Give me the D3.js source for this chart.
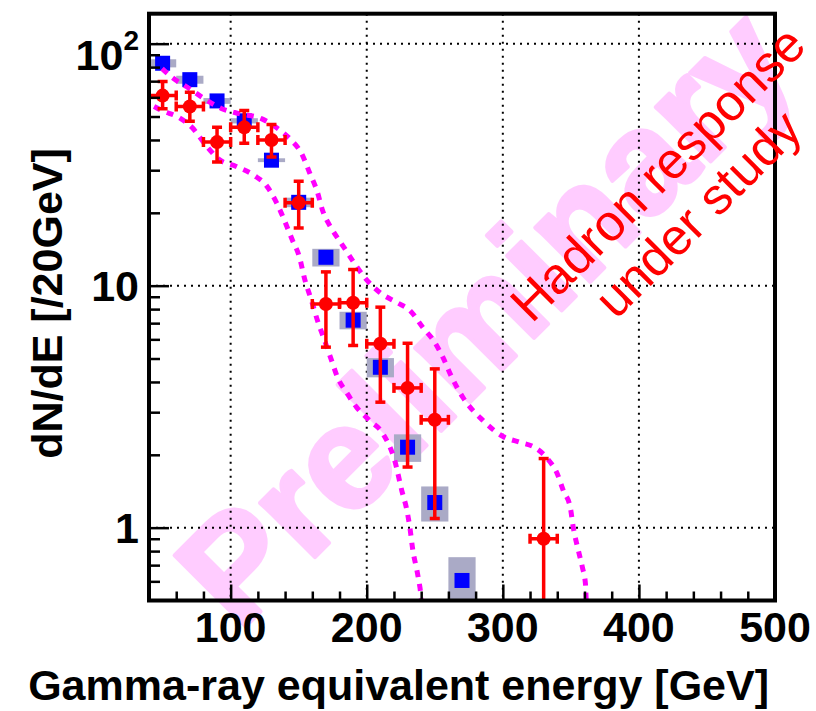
<!DOCTYPE html>
<html>
<head>
<meta charset="utf-8">
<script src="https://cdn.jsdelivr.net/npm/d3@7"></script>
<style>
  body { margin: 0; background: #fff; }
  svg { display: block; }
</style>
</head>
<body>
<svg id="chart" width="816" height="711"></svg>
<script>
// Simulated gamma-ray spectrum (blue squares, grey systematic boxes)
const simEnergy = [50, 70, 90, 110, 130, 150, 170, 190, 210, 230, 250, 270];
const simValue  = [83, 71, 58, 48, 33, 22.1, 13.1, 7.2, 4.6, 2.15, 1.27, 0.605];
const simSys    = [3.2, 2.7, 1.6, 1.2, 0.6, 1.0, 1.1, 0.6, 0.42, 0.28, 0.21, 0.15];

// Observed spectrum (red points with statistical errors)
const obsEnergy = [50, 70, 90, 110, 130, 150, 170, 190, 210, 230, 250, 330];
const obsValue  = [61, 55, 39.2, 45.1, 40, 22, 8.4, 8.5, 5.75, 3.78, 2.79, 0.90];
const obsErrUp  = [8.8, 8, 5.9, 7.8, 6.3, 5.0, 3.0, 3.16, 2.4, 2.0, 1.74, 1.03];
const obsErrLo  = [7.2, 7.2, 6.8, 6.3, 6.0, 4.7, 2.83, 2.84, 2.45, 2.0, 1.7, 0.9];
const binHalfWidth = 10;

// Uncertainty band (magenta dashed envelope)
const upperE = [49.6, 57.0, 69.5, 80.5, 93.1, 106.3, 122.6, 133.6, 144.7, 152.1, 158, 163.8, 167.5, 174.2, 181.5, 189.6, 198.5, 209.6, 222.1, 231.7, 241.3, 250.1, 256, 262.6, 270.7, 285.5, 300.2, 312.8, 323.8, 332.7, 340, 344.5, 349.6, 351.8, 355.5, 358.5, 360.7, 361.4, 362];
const upperV = [78.9, 72.5, 65.3, 59.3, 54.0, 51.4, 49.0, 45.0, 39.8, 35.2, 29.3, 24.3, 20.5, 17.2, 14.9, 12.7, 10.8, 9.37, 8.52, 7.90, 6.71, 5.82, 5.05, 4.17, 3.45, 2.77, 2.38, 2.25, 2.14, 1.93, 1.67, 1.42, 1.21, 1.00, 0.805, 0.684, 0.588, 0.5, 0.45];
const lowerE = [43.7, 49.6, 62.1, 71.7, 82.0, 91.6, 104.1, 117.4, 126.3, 133.6, 139.5, 145.4, 150.6, 154.3, 159.4, 163.8, 169.0, 174.2, 178.6, 185.2, 192.6, 202.2, 211.8, 220.6, 225.8, 229.5, 231.7, 233.9, 236.9, 239.1, 240.5, 241];
const lowerV = [55.0, 52.9, 49.5, 45.0, 37.9, 33.2, 31.1, 28.5, 25.9, 22.1, 18.6, 15.4, 13.1, 10.7, 8.68, 7.18, 5.94, 4.90, 4.17, 3.62, 3.14, 2.77, 2.45, 1.89, 1.42, 1.18, 1.00, 0.805, 0.665, 0.566, 0.5, 0.45];

// Axis ticks and labels
const xMajor = [100, 200, 300, 400, 500];
const xMinor = [60, 80, 120, 140, 160, 180, 220, 240, 260, 280, 320, 340, 360, 380, 420, 440, 460, 480];
const xLabels = ["100", "200", "300", "400", "500"];
const yMajor = [1, 10, 100];
const yMinor = [0.6, 0.7, 0.8, 0.9, 2, 3, 4, 5, 6, 7, 8, 9, 20, 30, 40, 50, 60, 70, 80, 90];
const xGrid = [100, 200, 300, 400];
const yGrid = [1, 10, 100];

const FONT = "'Liberation Sans', Arial, Helvetica, sans-serif";
const W = 816, H = 711;
const plot = { left: 149, right: 775, top: 13.7, bottom: 600.5 };

const x = d3.scaleLinear().domain([40, 500]).range([plot.left, plot.right]);
const y = d3.scaleLog().domain([0.5, 133]).range([plot.bottom, plot.top]).clamp(true);

const svg = d3.select("#chart");
svg.append("rect").attr("width", W).attr("height", H).attr("fill", "#fff");

svg.append("defs").append("clipPath").attr("id", "plotClip")
  .append("rect")
  .attr("x", plot.left).attr("y", plot.top)
  .attr("width", plot.right - plot.left).attr("height", plot.bottom - plot.top);

// Watermark
svg.append("text")
  .attr("transform", "translate(520,352) rotate(-45)")
  .attr("text-anchor", "middle")
  .attr("font-family", FONT).attr("font-weight", "bold")
  .attr("font-size", 146)
  .attr("fill", "#ffccff")
  .attr("stroke", "#ffccff").attr("stroke-width", 4).attr("stroke-linejoin", "round")
  .text("Preliminary");

// Dotted grid
const grid = svg.append("g").attr("stroke", "#000").attr("stroke-width", 2).attr("stroke-dasharray", "2,5");
grid.selectAll("line.gx").data(xGrid).join("line")
  .attr("x1", d => x(d)).attr("x2", d => x(d))
  .attr("y1", plot.top).attr("y2", plot.bottom);
grid.selectAll("line.gy").data(yGrid).join("line")
  .attr("x1", plot.left).attr("x2", plot.right)
  .attr("y1", d => y(d)).attr("y2", d => y(d));

const data = svg.append("g").attr("clip-path", "url(#plotClip)");

// Systematic boxes
const sim = simEnergy.map((e, i) => ({ e, v: simValue[i], s: simSys[i] }));
data.append("g").selectAll("rect").data(sim).join("rect")
  .attr("x", d => x(d.e - binHalfWidth))
  .attr("width", d => x(d.e + binHalfWidth) - x(d.e - binHalfWidth))
  .attr("y", d => y(d.v + d.s))
  .attr("height", d => y(Math.max(d.v - d.s, 0.4)) - y(d.v + d.s))
  .attr("fill", "#aaaac6");

// Simulated points
const sq = 15;
data.append("g").selectAll("rect").data(sim).join("rect")
  .attr("x", d => x(d.e) - sq / 2).attr("y", d => y(d.v) - sq / 2)
  .attr("width", sq).attr("height", sq)
  .attr("fill", "#0000ff");

// Envelope curves
const line = d3.line().x(d => x(d[0])).y(d => y(d[1])).curve(d3.curveMonotoneX);
[[upperE, upperV], [lowerE, lowerV]].forEach(([es, vs]) => {
  data.append("path")
    .attr("d", line(es.map((e, i) => [e, vs[i]])))
    .attr("fill", "none")
    .attr("stroke", "#ff00ff").attr("stroke-width", 5)
    .attr("stroke-dasharray", "7,7");
});

// Observed points with error bars
const obs = obsEnergy.map((e, i) => ({ e, v: obsValue[i], up: obsErrUp[i], lo: obsErrLo[i] }));
const eb = data.append("g").attr("stroke", "#ff0000").attr("stroke-width", 3.5);
const cap = 5;
obs.forEach(d => {
  const cx = x(d.e), cy = y(d.v);
  const yTop = y(d.v + d.up);
  const loVal = d.v - d.lo;
  const yBot = loVal > 0.5 ? y(loVal) : plot.bottom;
  const xl = x(d.e - binHalfWidth), xr = x(d.e + binHalfWidth);
  eb.append("line").attr("x1", cx).attr("x2", cx).attr("y1", yTop).attr("y2", yBot);
  eb.append("line").attr("x1", cx - cap).attr("x2", cx + cap).attr("y1", yTop).attr("y2", yTop);
  if (loVal > 0.5) eb.append("line").attr("x1", cx - cap).attr("x2", cx + cap).attr("y1", yBot).attr("y2", yBot);
  eb.append("line").attr("x1", xl).attr("x2", xr).attr("y1", cy).attr("y2", cy);
  eb.append("line").attr("x1", xl).attr("x2", xl).attr("y1", cy - cap).attr("y2", cy + cap);
  eb.append("line").attr("x1", xr).attr("x2", xr).attr("y1", cy - cap).attr("y2", cy + cap);
});
data.append("g").selectAll("circle").data(obs).join("circle")
  .attr("cx", d => x(d.e)).attr("cy", d => y(d.v)).attr("r", 7)
  .attr("fill", "#ff0000");

// Axes: ticks point into the frame
function drawAxis(axis, tx, ty) {
  const g = svg.append("g").attr("transform", `translate(${tx},${ty})`).call(axis);
  g.select(".domain").remove();
  g.selectAll(".tick line").attr("stroke", "#000").attr("stroke-width", 2.5);
  g.selectAll(".tick text").remove();
}
drawAxis(d3.axisBottom(x).tickValues(xMajor).tickSizeInner(-16).tickSizeOuter(0), 0, plot.bottom);
drawAxis(d3.axisBottom(x).tickValues(xMinor).tickSizeInner(-9).tickSizeOuter(0), 0, plot.bottom);
drawAxis(d3.axisLeft(y).tickValues(yMajor).tickSizeInner(-20).tickSizeOuter(0), plot.left, 0);
drawAxis(d3.axisLeft(y).tickValues(yMinor).tickSizeInner(-11).tickSizeOuter(0), plot.left, 0);

// Frame
svg.append("rect")
  .attr("x", plot.left).attr("y", plot.top)
  .attr("width", plot.right - plot.left).attr("height", plot.bottom - plot.top)
  .attr("fill", "none").attr("stroke", "#000").attr("stroke-width", 4);

// Tick labels
svg.append("g").selectAll("text").data(xMajor).join("text")
  .attr("x", d => x(d)).attr("y", 642)
  .attr("text-anchor", "middle")
  .attr("font-family", FONT).attr("font-weight", "bold").attr("font-size", 43)
  .text((d, i) => xLabels[i]);

const yl = svg.append("g")
  .attr("font-family", FONT).attr("font-weight", "bold").attr("font-size", 43)
  .attr("text-anchor", "end");
yl.append("text").attr("x", 139).attr("y", y(1) + 15).text("1");
yl.append("text").attr("x", 139).attr("y", y(10) + 15).text("10");
const t100 = yl.append("text").attr("x", 139).attr("y", y(100) + 26);
t100.append("tspan").text("10");
t100.append("tspan").attr("font-size", 28).attr("dy", -20).text("2");

// Axis titles
svg.append("text")
  .attr("x", 769).attr("y", 700)
  .attr("text-anchor", "end")
  .attr("font-family", FONT).attr("font-weight", "bold").attr("font-size", 43)
  .text("Gamma-ray equivalent energy [GeV]");
svg.append("text")
  .attr("transform", "translate(62,303.5) rotate(-90)")
  .attr("text-anchor", "middle")
  .attr("font-family", FONT).attr("font-weight", "bold").attr("font-size", 43)
  .text("dN/dE [/20GeV]");

// Annotation
const note = svg.append("g")
  .attr("transform", "translate(670,186) rotate(-45)")
  .attr("font-family", FONT).attr("font-size", 51)
  .attr("fill", "#ff0000").attr("text-anchor", "middle");
note.append("text").attr("x", 0).attr("y", 0).text("Hadron response");
note.append("text").attr("x", 0).attr("y", 57).text("under study");
</script>
</body>
</html>
